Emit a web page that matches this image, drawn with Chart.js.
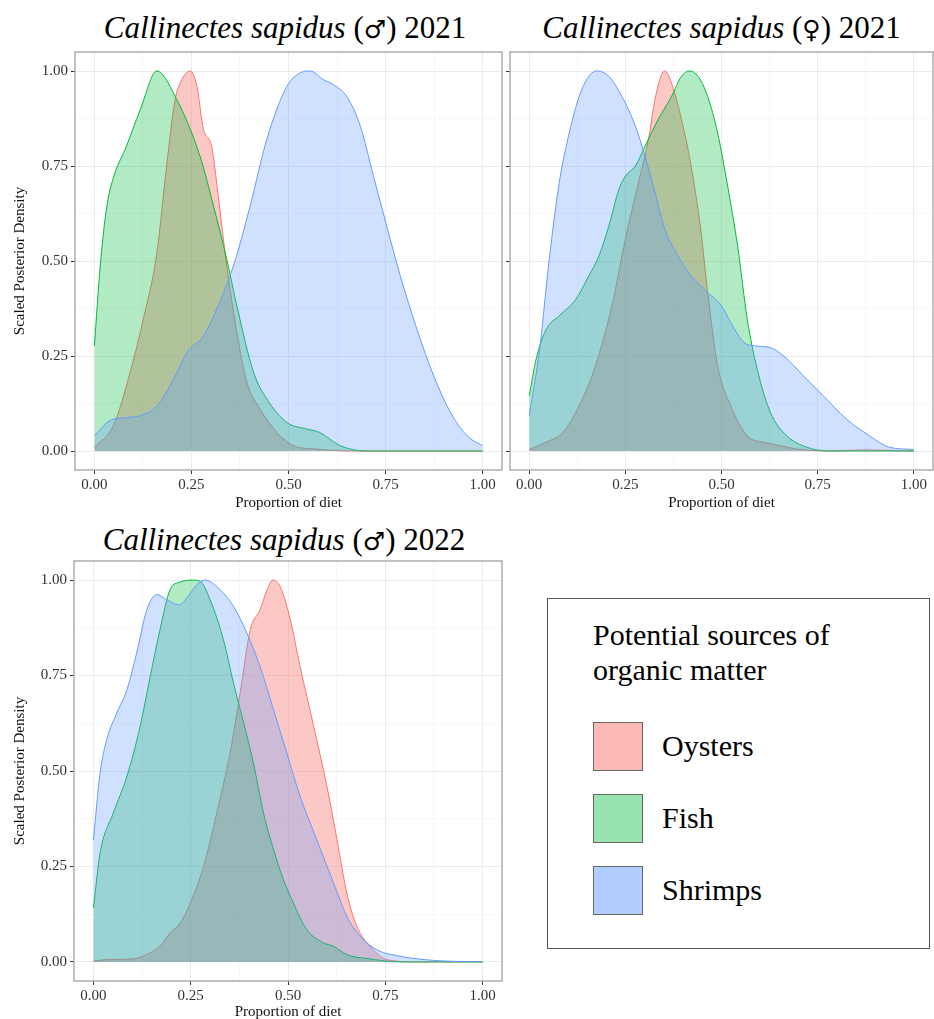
<!DOCTYPE html>
<html>
<head>
<meta charset="utf-8">
<script src="https://cdn.jsdelivr.net/npm/chart.js@4.4.1/dist/chart.umd.min.js"></script>
<style>
    html, body { margin: 0; padding: 0; background: #fff; overflow: hidden; }
    body { width: 934px; height: 1019px; position: relative; font-family: 'Liberation Serif', 'Times New Roman', serif; color: #000; }
    .box { position: absolute; }
    .title { position: absolute; font-size: 31px; line-height: 31px; text-align: center; white-space: nowrap; }
    .sym { font-family: 'DejaVu Sans', sans-serif; font-size: 25px; font-weight: normal; }
    #legend { position: absolute; left: 547px; top: 598px; width: 383px; height: 351px; border: 1px solid #555; box-sizing: border-box; }
    .legTitle { position: absolute; left: 593px; top: 617px; font-size: 30px; line-height: 35px; }
    .swatch { position: absolute; left: 593px; width: 48px; height: 47px; border: 1px solid #666; }
    .legLabel { position: absolute; left: 662px; font-size: 30px; line-height: 48px; height: 48px; }
</style>
</head>
<body>

<div class="title" style="left:75px; width:420px; top:12px;"><i>Callinectes sapidus</i> (<span class="sym">♂</span>) 2021</div>
<div class="title" style="left:510px; width:423px; top:12px;"><i>Callinectes sapidus</i> (<span class="sym">♀</span>) 2021</div>
<div class="title" style="left:74px; width:420px; top:524px;"><i>Callinectes sapidus</i> (<span class="sym">♂</span>) 2022</div>

<div class="box" style="left:0; top:0; width:505px; height:515px;"><canvas id="chartMale2021"></canvas></div>
<div class="box" style="left:505px; top:0; width:429px; height:515px;"><canvas id="chartFemale2021"></canvas></div>
<div class="box" style="left:0; top:515px; width:505px; height:510px;"><canvas id="chartMale2022"></canvas></div>

<div id="legend"></div>
<div class="legTitle">Potential sources of<br>organic matter</div>
<div class="swatch" style="top:722px; background: rgba(248,118,109,0.5);"></div>
<div class="legLabel" style="top:722px;">Oysters</div>
<div class="swatch" style="top:794px; background: rgba(0,186,56,0.4);"></div>
<div class="legLabel" style="top:794px;">Fish</div>
<div class="swatch" style="top:866px; background: rgba(97,156,255,0.5);"></div>
<div class="legLabel" style="top:866px;">Shrimps</div>

<script>
// --- Data ---
const sources = ['Oysters', 'Fish', 'Shrimps'];
const sourceColors = ['#F8766D', '#00BA38', '#619CFF'];
const sourceFills = ['rgba(248,118,109,0.4)', 'rgba(0,186,56,0.3)', 'rgba(97,156,255,0.3)'];

const tickValues = [0, 0.25, 0.5, 0.75, 1];
const tickLabels = ['0.00', '0.25', '0.50', '0.75', '1.00'];
const minorValues = [0.125, 0.375, 0.625, 0.875];

// Callinectes sapidus (male) 2021
const m21OystersX = [0, 0.049, 0.092, 0.126, 0.161, 0.186, 0.208, 0.225, 0.247, 0.264, 0.281, 0.302, 0.32, 0.341, 0.367, 0.393, 0.427, 0.47, 0.513, 0.573, 0.66, 1];
const m21OystersY = [0.01, 0.067, 0.207, 0.347, 0.522, 0.75, 0.925, 0.977, 1.0, 0.96, 0.846, 0.802, 0.662, 0.487, 0.312, 0.18, 0.11, 0.049, 0.014, 0.005, 0, 0];
const m21FishX = [0, 0.015, 0.032, 0.053, 0.079, 0.118, 0.161, 0.212, 0.272, 0.307, 0.341, 0.367, 0.41, 0.444, 0.496, 0.547, 0.58, 0.633, 0.70, 1];
const m21FishY = [0.277, 0.487, 0.644, 0.732, 0.793, 0.898, 1.0, 0.925, 0.776, 0.644, 0.504, 0.382, 0.207, 0.137, 0.075, 0.058, 0.049, 0.014, 0, 0];
const m21ShrimpsX = [0, 0.04, 0.083, 0.118, 0.161, 0.204, 0.238, 0.281, 0.315, 0.358, 0.401, 0.444, 0.496, 0.53, 0.556, 0.59, 0.616, 0.65, 0.685, 0.719, 0.753, 0.788, 0.831, 0.874, 0.917, 0.96, 1.0];
const m21ShrimpsY = [0.04, 0.08, 0.088, 0.093, 0.119, 0.189, 0.259, 0.303, 0.373, 0.487, 0.644, 0.82, 0.96, 0.995, 1.0, 0.977, 0.964, 0.933, 0.855, 0.723, 0.592, 0.461, 0.32, 0.198, 0.102, 0.04, 0.014];

// Callinectes sapidus (female) 2021
const f21OystersX = [0, 0.044, 0.087, 0.13, 0.172, 0.215, 0.25, 0.284, 0.31, 0.327, 0.344, 0.353, 0.37, 0.396, 0.421, 0.447, 0.464, 0.49, 0.524, 0.567, 0.61, 0.653, 0.696, 0.78, 0.868, 1];
const f21OystersY = [0.004, 0.023, 0.049, 0.119, 0.224, 0.382, 0.557, 0.706, 0.82, 0.925, 0.99, 1.0, 0.968, 0.872, 0.75, 0.574, 0.417, 0.224, 0.119, 0.04, 0.023, 0.014, 0.005, 0, 0.003, 0];
const f21FishX = [0, 0.018, 0.044, 0.078, 0.121, 0.155, 0.181, 0.207, 0.233, 0.25, 0.276, 0.301, 0.335, 0.37, 0.396, 0.417, 0.439, 0.464, 0.49, 0.516, 0.542, 0.567, 0.593, 0.627, 0.67, 0.722, 0.78, 1];
const f21FishY = [0.145, 0.242, 0.32, 0.356, 0.399, 0.461, 0.513, 0.592, 0.688, 0.723, 0.75, 0.802, 0.872, 0.933, 0.986, 1.0, 0.986, 0.933, 0.837, 0.697, 0.539, 0.347, 0.215, 0.102, 0.04, 0.01, 0, 0];
const f21ShrimpsX = [0, 0.027, 0.052, 0.078, 0.104, 0.13, 0.155, 0.177, 0.207, 0.241, 0.276, 0.301, 0.327, 0.353, 0.387, 0.421, 0.464, 0.5, 0.524, 0.559, 0.585, 0.627, 0.662, 0.713, 0.765, 0.825, 0.885, 0.936, 1];
const f21ShrimpsY = [0.093, 0.268, 0.504, 0.706, 0.837, 0.933, 0.986, 1.0, 0.986, 0.933, 0.855, 0.776, 0.68, 0.583, 0.513, 0.461, 0.417, 0.382, 0.338, 0.285, 0.277, 0.272, 0.25, 0.198, 0.145, 0.084, 0.04, 0.01, 0.004];

// Callinectes sapidus (male) 2022
const m22OystersX = [0, 0.034, 0.103, 0.146, 0.171, 0.197, 0.223, 0.249, 0.283, 0.317, 0.351, 0.377, 0.403, 0.428, 0.446, 0.461, 0.48, 0.506, 0.531, 0.566, 0.6, 0.626, 0.651, 0.677, 0.711, 0.754, 0.831, 1];
const m22OystersY = [0.002, 0.006, 0.008, 0.024, 0.041, 0.076, 0.102, 0.154, 0.25, 0.39, 0.547, 0.704, 0.87, 0.922, 0.974, 1.0, 0.983, 0.896, 0.774, 0.617, 0.46, 0.32, 0.181, 0.093, 0.041, 0.006, 0, 0];
const m22FishX = [0, 0.017, 0.051, 0.086, 0.12, 0.146, 0.171, 0.197, 0.223, 0.257, 0.274, 0.3, 0.334, 0.36, 0.386, 0.411, 0.437, 0.463, 0.488, 0.514, 0.548, 0.591, 0.617, 0.651, 0.703, 0.788, 1];
const m22FishY = [0.141, 0.285, 0.39, 0.486, 0.617, 0.748, 0.87, 0.975, 0.995, 1.0, 0.997, 0.948, 0.844, 0.73, 0.626, 0.521, 0.39, 0.294, 0.216, 0.154, 0.085, 0.05, 0.041, 0.019, 0.009, 0, 0];
const m22ShrimpsX = [0, 0.017, 0.034, 0.06, 0.086, 0.111, 0.137, 0.163, 0.189, 0.219, 0.24, 0.266, 0.287, 0.317, 0.36, 0.394, 0.428, 0.463, 0.497, 0.531, 0.574, 0.617, 0.651, 0.686, 0.728, 0.788, 0.874, 1];
const m22ShrimpsY = [0.32, 0.495, 0.582, 0.652, 0.713, 0.809, 0.922, 0.962, 0.948, 0.935, 0.953, 0.988, 1.0, 0.983, 0.931, 0.862, 0.774, 0.66, 0.547, 0.434, 0.32, 0.207, 0.12, 0.067, 0.032, 0.015, 0.004, 0];

// --- Helpers ---
const serif = "'Liberation Serif', 'Times New Roman', serif";

function zip(xs, ys) {
    return xs.map((x, i) => ({ x: x, y: ys[i] }));
}

function isMajor(v) {
    return tickValues.some(t => Math.abs(t - v) < 1e-6);
}

function makeDatasets(series) {
    // shrimps drawn on top, oysters at the bottom (ggplot layer order)
    return series.map((s, i) => ({
        label: sources[i],
        data: zip(s[0], s[1]),
        borderColor: sourceColors[i],
        backgroundColor: sourceFills[i],
        borderWidth: 1,
        pointRadius: 0,
        fill: 'origin',
        cubicInterpolationMode: 'monotone',
        order: 2 - i
    }));
}

// grey panel border like theme_bw
const panelBorder = {
    id: 'panelBorder',
    afterDraw(chart) {
        const a = chart.chartArea;
        const ctx = chart.ctx;
        ctx.save();
        ctx.strokeStyle = '#A8A8A8';
        ctx.lineWidth = 1.4;
        ctx.strokeRect(a.left, a.top, a.right - a.left, a.bottom - a.top);
        ctx.restore();
    }
};

function gridOptions() {
    return {
        color: c => isMajor(c.tick ? c.tick.value : 0) ? '#EBEBEB' : '#F4F4F4',
        lineWidth: c => isMajor(c.tick ? c.tick.value : 0) ? 1 : 0.7,
        tickColor: c => isMajor(c.tick ? c.tick.value : 0) ? '#333' : 'rgba(0,0,0,0)',
        tickLength: 4,
        drawTicks: true
    };
}

function buildTicks(scale) {
    scale.ticks = tickValues.concat(minorValues).sort((a, b) => a - b).map(v => ({ value: v }));
}

function tickLabel(value) {
    const idx = tickValues.findIndex(t => Math.abs(t - value) < 1e-6);
    return idx >= 0 ? tickLabels[idx] : '';
}

function makeChart(id, series, opts) {
    const ctx = document.getElementById(id).getContext('2d');
    return new Chart(ctx, {
        type: 'line',
        data: { datasets: makeDatasets(series) },
        plugins: [panelBorder],
        options: {
            responsive: true,
            maintainAspectRatio: false,
            animation: false,
            layout: { padding: opts.padding },
            plugins: {
                legend: { display: false },
                tooltip: { enabled: false }
            },
            scales: {
                x: {
                    type: 'linear',
                    min: -0.05,
                    max: 1.05,
                    afterBuildTicks: buildTicks,
                    afterFit: s => { s.height = opts.xHeight; },
                    grid: gridOptions(),
                    border: { display: false },
                    ticks: {
                        autoSkip: false,
                        maxRotation: 0,
                        padding: 2,
                        color: '#333',
                        font: { family: serif, size: 15 },
                        callback: v => tickLabel(v)
                    },
                    title: {
                        display: true,
                        text: 'Proportion of diet',
                        color: '#111',
                        font: { family: serif, size: 15 },
                        padding: { top: 0, bottom: opts.xTitlePad }
                    }
                },
                y: {
                    type: 'linear',
                    min: -0.05,
                    max: 1.05,
                    afterBuildTicks: buildTicks,
                    afterFit: s => { s.width = opts.yWidth; },
                    grid: gridOptions(),
                    border: { display: false },
                    ticks: {
                        display: opts.yLabels,
                        autoSkip: false,
                        padding: 3,
                        color: '#333',
                        font: { family: serif, size: 15 },
                        callback: v => tickLabel(v)
                    },
                    title: {
                        display: opts.yLabels,
                        text: 'Scaled Posterior Density',
                        color: '#111',
                        font: { family: serif, size: 15 },
                        padding: { top: 11, bottom: 0 }
                    }
                }
            }
        }
    });
}

// --- Charts ---
makeChart('chartMale2021',
    [[m21OystersX, m21OystersY], [m21FishX, m21FishY], [m21ShrimpsX, m21ShrimpsY]],
    { padding: { top: 52, right: 3, bottom: 0, left: 0 }, xHeight: 45, yWidth: 75, yLabels: true, xTitlePad: 3 });

makeChart('chartFemale2021',
    [[f21OystersX, f21OystersY], [f21FishX, f21FishY], [f21ShrimpsX, f21ShrimpsY]],
    { padding: { top: 52, right: 1, bottom: 0, left: 0 }, xHeight: 45, yWidth: 5, yLabels: false, xTitlePad: 3 });

makeChart('chartMale2022',
    [[m22OystersX, m22OystersY], [m22FishX, m22FishY], [m22ShrimpsX, m22ShrimpsY]],
    { padding: { top: 46, right: 3, bottom: 0, left: 0 }, xHeight: 44, yWidth: 74, yLabels: true, xTitlePad: 4 });
</script>
</body>
</html>
